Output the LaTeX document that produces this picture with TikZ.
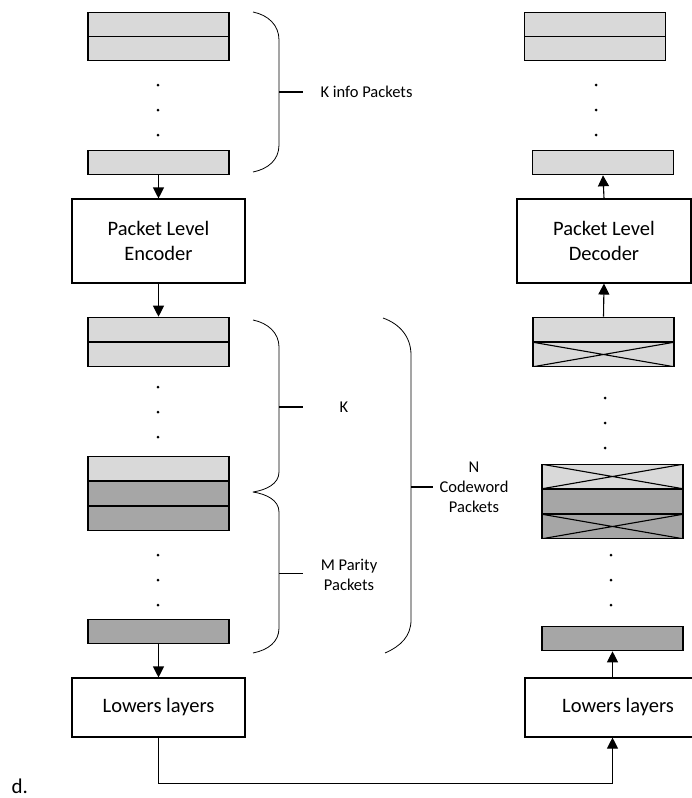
\documentclass[tikz,border=0pt]{standalone}
\usepackage{fontspec}
\setmainfont{Carlito}
\usetikzlibrary{arrows.meta}
\definecolor{pktlight}{HTML}{D9D9D9}
\definecolor{pktdark}{HTML}{A6A6A6}

\begin{document}
\begin{tikzpicture}[x=1pt, y=-1pt,
    pkt/.style={draw, fill=pktlight, line width=1.1pt, minimum width=141pt, minimum height=24.5pt, inner sep=0pt},
    parity/.style={pkt, fill=pktdark},
    lost/.style={path picture={\draw[line width=1.1pt] (path picture bounding box.north west) -- (path picture bounding box.south east) (path picture bounding box.south west) -- (path picture bounding box.north east);}},
    blk/.style={draw, fill=white, line width=1.1pt, minimum width=173pt, align=center, font=\fontsize{20.5}{25}\selectfont},
    pdot/.style={circle, fill=black, inner sep=0pt, minimum size=3pt},
    arr/.style={line width=1.1pt, -{Triangle[length=11pt, width=11pt]}},
    brace/.style={line width=0.8pt, line join=round},
    tag/.style={font=\fontsize{16.5}{20}\selectfont, align=center}]
    \useasboundingbox (0,0) rectangle (692,798);

    % sender side
    \node[pkt] (k1) at (158.5,24.5) {};
    \node[pkt] (k2) at (158.5,48.5) {};
    \foreach \y in {85,110,135} \node[pdot] (kd\y) at (158,\y) {};
    \node[pkt] (kn) at (158.5,162.5) {};
    \node[blk, minimum height=84pt] (enc) at (158.5,241) {Packet Level\\Encoder};
    \node[pkt] (c1) at (158.5,329.5) {};
    \node[pkt] (c2) at (158.5,354.5) {};
    \foreach \y in {387,412,437} \node[pdot] (cd\y) at (158,\y) {};
    \node[pkt] (ck) at (158.5,468.5) {};
    \node[parity] (m1) at (158.5,493.5) {};
    \node[parity] (m2) at (158.5,518.5) {};
    \foreach \y in {555,580,605} \node[pdot] (md\y) at (158,\y) {};
    \node[parity] (mn) at (158.5,631.5) {};
    \node[blk, minimum height=59pt] (low1) at (158.5,707.5) {Lowers layers};

    % receiver side
    \node[pkt] (r1) at (595,24.5) {};
    \node[pkt] (r2) at (595,48.5) {};
    \foreach \y in {85,110,135} \node[pdot] (rd\y) at (596,\y) {};
    \node[pkt] (rk) at (603,162.5) {};
    \node[blk, minimum height=84pt, minimum width=174pt] (dec) at (604,241) {Packet Level\\Decoder};
    \node[pkt] (s1) at (603.5,329.5) {};
    \node[pkt, lost] (s2) at (603.5,354.5) {};
    \foreach \y in {398,423,448} \node[pdot] (sd\y) at (605,\y) {};
    \node[pkt, lost] (sk) at (612.5,476.5) {};
    \node[parity] (t1) at (612.5,501.5) {};
    \node[parity, lost] (t2) at (612.5,526.5) {};
    \foreach \y in {555,580,605} \node[pdot] (td\y) at (611,\y) {};
    \node[parity] (tn) at (612.5,638.5) {};
    \node[blk, minimum height=59pt, minimum width=186pt] (low2) at (618,707.5) {Lowers layers};

    % arrows
    \draw[arr] (kn.south) -- (enc.north);
    \draw[arr] (enc.south) -- (c1.north);
    \draw[arr] (mn.south) -- (low1.north);
    \draw[arr] (low1.south) -- ++(0,46) -| (tn.south |- low2.south);
    \draw[arr] (low2.north -| tn.south) -- (tn.south);
    \draw[arr] (s1.north) -- (dec.south);
    \draw[arr] (dec.north) -- (rk.south);

    % braces
    \draw[brace] (253,12) .. controls (268,15) and (279,25) .. (279,40) -- (279,145) .. controls (279,160) and (268,169) .. (253,172);
    \draw[line width=1.2pt] (279,92) -- (303,92) coordinate (kinfo);
    \node[tag, anchor=west] (kinfolbl) at ([xshift=14pt]kinfo) {K info Packets};

    \draw[brace] (253,320) .. controls (268,323) and (279,333) .. (279,347) -- (279,472)
        .. controls (279,484) and (266,490) .. (253,492)
        .. controls (266,494) and (279,500) .. (279,512) -- (279,628)
        .. controls (279,642) and (268,650) .. (253,653);
    \draw[line width=1.2pt] (279,407) -- (303,407) coordinate (kk);
    \node[tag] (klbl) at (344,407) {K};
    \draw[line width=0.8pt] (279,573) -- (303,573) coordinate (mm);
    \node[tag] (mlbl) at (349,575) {M Parity\\Packets};

    \draw[brace] (383,318) .. controls (400,324) and (411,337) .. (411,355) -- (411,620)
        .. controls (411,636) and (401,646) .. (385,653);
    \draw[line width=1.2pt] (411,487) -- (433,487) coordinate (nn);
    \node[tag] (nlbl) at (474,487) {N\\Codeword\\Packets};

    \node[anchor=base west, font=\fontsize{21}{25}\selectfont] (tagd) at (8,793) {d.};
\end{tikzpicture}
\end{document}
